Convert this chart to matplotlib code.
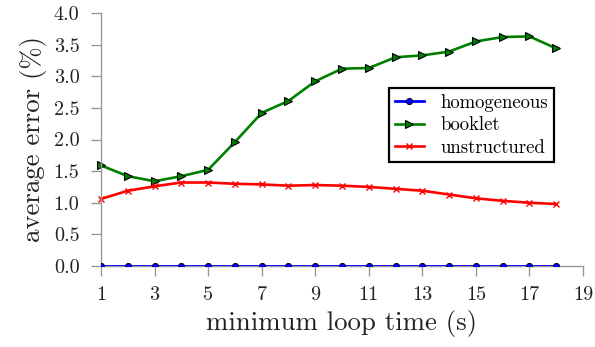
import matplotlib
matplotlib.use("Agg")
import matplotlib.pyplot as plt

plt.rcParams['font.family'] = ['cmr10', 'DejaVu Serif']
plt.rcParams['mathtext.fontset'] = 'cm'
plt.rcParams['axes.formatter.use_mathtext'] = True

x = list(range(1, 19))
homogeneous = [0.0] * 18
booklet = [1.59, 1.42, 1.34, 1.42, 1.52, 1.96, 2.42, 2.61, 2.92, 3.12, 3.13,
           3.30, 3.33, 3.39, 3.55, 3.62, 3.63, 3.44]
unstructured = [1.06, 1.19, 1.26, 1.32, 1.32, 1.30, 1.29, 1.27, 1.28, 1.27, 1.25,
                1.22, 1.19, 1.13, 1.07, 1.03, 1.00, 0.98]
xticks = [1, 3, 5, 7, 9, 11, 13, 15, 17, 19]
yticks = [0.0, 0.5, 1.0, 1.5, 2.0, 2.5, 3.0, 3.5, 4.0]

fig = plt.figure(figsize=(5.95, 3.47), dpi=100)
ax = fig.add_axes([101 / 595, 1 - 266 / 347, (583 - 101) / 595, (266 - 13) / 347])

ax.plot(x, homogeneous, color='#0000ff', lw=2.0, marker='o', ms=4.5,
        mfc='#0000ff', mec='black', mew=0.6, label='homogeneous', clip_on=True, zorder=3)
ax.plot(x, booklet, color='#008000', lw=1.9, marker='>', ms=5.5,
        mfc='#008000', mec='black', mew=0.8, label='booklet', clip_on=False)
ax.plot(x, unstructured, color='#ff0000', lw=1.9, marker='x', ms=4.5,
        mec='#ff0000', mew=1.0, label='unstructured', clip_on=False)

ax.set_xlim(1, 19)
ax.set_ylim(0, 4.0)
ax.set_xticks(xticks)
ax.set_yticks(yticks)
ax.set_yticklabels([f"{v:.1f}" for v in yticks])
ax.set_xticklabels([str(v) for v in xticks])
for s in ['top', 'right']:
    ax.spines[s].set_visible(False)
for s in ['left', 'bottom']:
    ax.spines[s].set_color('#999999')
    ax.spines[s].set_linewidth(1.0)
ax.tick_params(axis='both', which='both', direction='out', length=7.5, width=1.0,
               color='#999999', labelsize=14.5, labelcolor='#222222')
ax.tick_params(axis='y', pad=8)
ax.tick_params(axis='x', pad=7)
ax.set_xlabel('minimum loop time (s)', fontsize=19.3, color='#222222', labelpad=4)
ax.set_ylabel('average error (%)', fontsize=19.3, color='#222222', labelpad=5)

leg = ax.legend(loc='upper left', bbox_to_anchor=(389 / 595, 1 - 88 / 347),
                bbox_transform=fig.transFigure, borderaxespad=0, fontsize=13.5,
                frameon=True, fancybox=False, edgecolor='black', handlelength=1.55,
                borderpad=0.3, labelspacing=0.25, handletextpad=0.9, framealpha=1)
leg.get_frame().set_linewidth(1.6)

fig.savefig('out.png', dpi=100)
